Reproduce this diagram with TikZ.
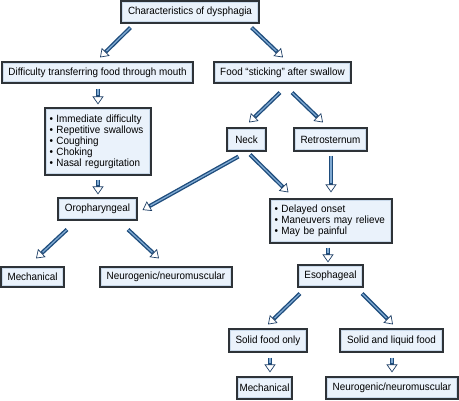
\documentclass[tikz,border=0pt]{standalone}
\usepackage{fontspec}
\setmainfont[FakeStretch=0.94]{Liberation Sans}
\usetikzlibrary{arrows.meta,calc}
\definecolor{boxfill}{HTML}{EAF2FB}
\definecolor{boxrim}{HTML}{C9D9EA}
\definecolor{boxline}{HTML}{2E3338}
\definecolor{shaftdark}{HTML}{1E4C7C}
\definecolor{shaftlight}{HTML}{7FA9D2}
\definecolor{headline}{HTML}{1E3F66}
\tikzset{
  box/.style={draw=boxline, line width=1.1pt, fill=boxfill, inner sep=0pt,
    font=\fontsize{10.5}{11}\selectfont, anchor=center,
    path picture={\draw[boxrim, line width=1pt]
      ([shift={(1.6pt,-1.6pt)}]path picture bounding box.north west) rectangle
      ([shift={(-1.6pt,1.6pt)}]path picture bounding box.south east);}},
  blist/.style={box, align=left},
  fat/.style={draw=shaftdark, line width=4pt,
    -{Triangle[width=11pt,length=8pt,line width=0.7pt,fill=white,color=headline]},
    postaction={draw=shaftlight, line width=1.3pt, -, shorten >=9pt, shorten <=0.5pt}}
}
\begin{document}
\begin{tikzpicture}[x=1pt,y=-1pt]
\useasboundingbox (0,0) rectangle (459,400);
% nodes
\node[box, minimum width=138pt, minimum height=22pt] (char) at (190,12) {Characteristics of dysphagia};
\node[box, minimum width=191pt, minimum height=21pt] (diff) at (97.5,72.5) {Difficulty transferring food through mouth};
\node[box, minimum width=137pt, minimum height=21pt] (food) at (282.5,72.5) {Food “sticking” after swallow};
\node[blist, minimum width=106pt, minimum height=67pt, text width=97pt, inner xsep=4.5pt] (bul) at (98,141.5)
  {• Immediate difficulty\\• Repetitive swallows\\• Coughing\\• Choking\\• Nasal regurgitation};
\node[box, minimum width=39pt, minimum height=23pt] (neck) at (246.5,139.5) {Neck};
\node[box, minimum width=73pt, minimum height=23pt] (retro) at (330.5,139.5) {Retrosternum};
\node[box, minimum width=79pt, minimum height=22pt] (oro) at (97.5,209) {Oropharyngeal};
\node[blist, minimum width=122pt, minimum height=44pt, text width=113pt, inner xsep=4.5pt] (del) at (331,221)
  {• Delayed onset\\• Maneuvers may relieve\\• May be painful};
\node[box, minimum width=63pt, minimum height=20pt] (mecha) at (32.5,277) {Mechanical};
\node[box, minimum width=132pt, minimum height=20pt] (neura) at (166,277) {Neurogenic/neuromuscular};
\node[box, minimum width=65pt, minimum height=22pt] (eso) at (330.5,276) {Esophageal};
\node[box, minimum width=78pt, minimum height=23pt] (solid) at (268,340.5) {Solid food only};
\node[box, minimum width=103pt, minimum height=23pt] (sliq) at (391.5,340.5) {Solid and liquid food};
\node[box, minimum width=55pt, minimum height=22pt] (mechb) at (264.5,388) {Mechanical};
\node[box, minimum width=132pt, minimum height=22pt] (neurb) at (392,388) {Neurogenic/neuromuscular};
% connectors
\draw[fat] ($(char.south west)+(10,4)$) -- ($(diff.north)+(2.5,-4)$);
\draw[fat] ($(char.south east)+(-8,4)$) -- ($(food.north)+(0.5,-4)$);
\draw[fat] ($(diff.south)+(0.5,5)$) -- ($(bul.north)+(0,-3)$);
\draw[fat] ($(food.south)+(-2.5,9)$) -- ($(neck.north)+(2.5,-5)$);
\draw[fat] ($(food.south)+(9.5,9)$) -- ($(retro.north)+(-7.5,-5)$);
\draw[fat] ($(bul.south)+(0,4)$) -- ($(oro.north)+(0.5,-3)$);
\draw[fat] ($(neck.south west)+(12,5)$) -- ($(oro.east)+(5,1)$);
\draw[fat] ($(neck.south)+(3.5,3)$) -- ($(del.north west)+(19,-6)$);
\draw[fat] ($(retro.south)+(0.5,4)$) -- ($(del.north)+(0,-6)$);
\draw[fat] ($(del.south)+(-3,4)$) -- ($(eso.north)+(-2.5,-2)$);
\draw[fat] ($(oro.south)+(-30.5,9)$) -- ($(mecha.north)+(3.5,-8)$);
\draw[fat] ($(oro.south)+(30.5,9)$) -- ($(neura.north)+(-7,-8)$);
\draw[fat] ($(eso.south)+(-30.5,6)$) -- ($(solid.north)+(0,-4)$);
\draw[fat] ($(eso.south)+(31.5,6)$) -- ($(sliq.north)+(1.5,-4)$);
\draw[fat] ($(solid.south)+(2,5)$) -- ($(mechb.north)+(5.5,-4)$);
\draw[fat] ($(sliq.south)+(0.5,5)$) -- ($(neurb.north)+(0,-4)$);
\end{tikzpicture}
\end{document}
